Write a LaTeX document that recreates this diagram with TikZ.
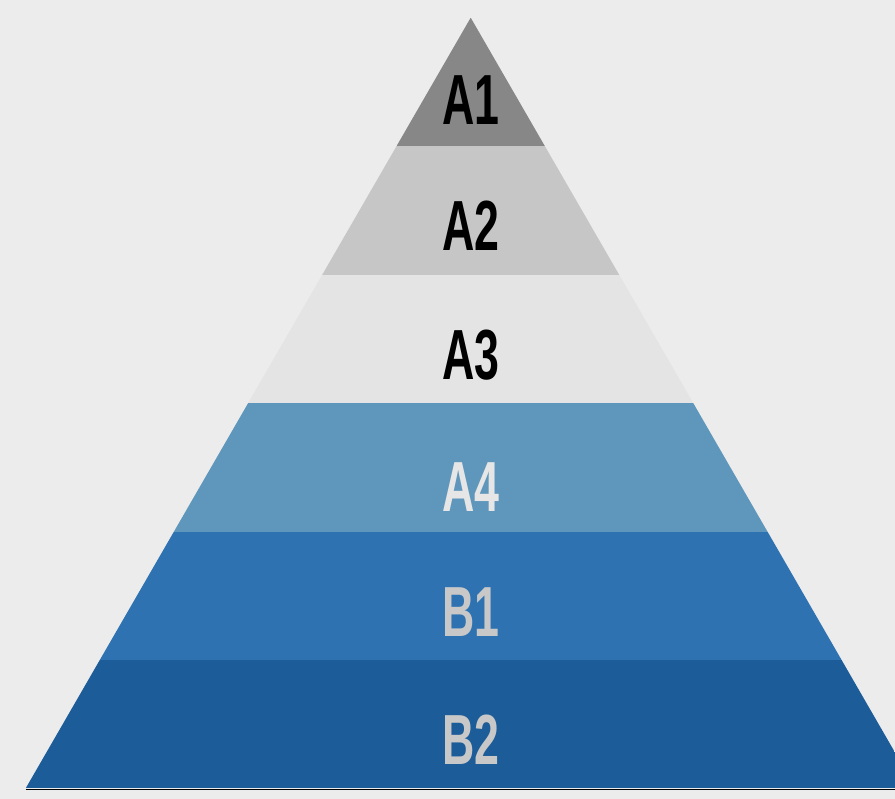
\documentclass[tikz,border=0pt]{standalone}
\usepackage{fontspec}
\setmainfont{Liberation Sans}
\definecolor{bgc}{HTML}{ECECEC}
\definecolor{cA1}{HTML}{878787}
\definecolor{cA2}{HTML}{C6C6C6}
\definecolor{cA3}{HTML}{E4E4E4}
\definecolor{cA4}{HTML}{5E97BB}
\definecolor{cB1}{HTML}{2E72B1}
\definecolor{cB2}{HTML}{1C5C98}
\definecolor{tLight}{HTML}{E6E6E6}
\definecolor{tGrey}{HTML}{C8C8C8}
\definecolor{baseline}{HTML}{D6D6D6}
\tikzset{
  lbl/.style={inner sep=0pt, font=\fontsize{71}{80}\bfseries\selectfont, xscale=0.63},
}
\begin{document}
\begin{tikzpicture}[x=1pt,y=-1pt]
\fill[bgc] (0,0) rectangle (895,799);
\useasboundingbox (0,0) rectangle (895,799);
\coordinate (apex) at (470.7,17.7);
\coordinate (bl) at (25.7,788.3);
\coordinate (br) at (915.7,788.3);
\begin{scope}
\clip (0,0) rectangle (895,799);
\draw[baseline, line width=1.2pt] (25.7,789.3) -- (915.7,789.3);
\clip (apex) -- (bl) -- (br) -- cycle;
\fill[cA1] (0,17.7) rectangle (920,146.4);
\fill[cA2] (0,146.4) rectangle (920,274.6);
\fill[cA3] (0,274.6) rectangle (920,403.1);
\fill[cA4] (0,403.1) rectangle (920,531.6);
\fill[cB1] (0,531.6) rectangle (920,660.4);
\fill[cB2] (0,660.4) rectangle (920,788.3);
\end{scope}
\node[lbl, text=black] (a1) at (471,100) {A1};
\node[lbl, text=black] (a2) at (471,226) {A2};
\node[lbl, text=black] (a3) at (471,355) {A3};
\node[lbl, text=tLight] (a4) at (471,487) {A4};
\node[lbl, text=tGrey] (b1) at (471,612) {B1};
\node[lbl, text=tGrey] (b2) at (471,740) {B2};
\end{tikzpicture}
\end{document}
